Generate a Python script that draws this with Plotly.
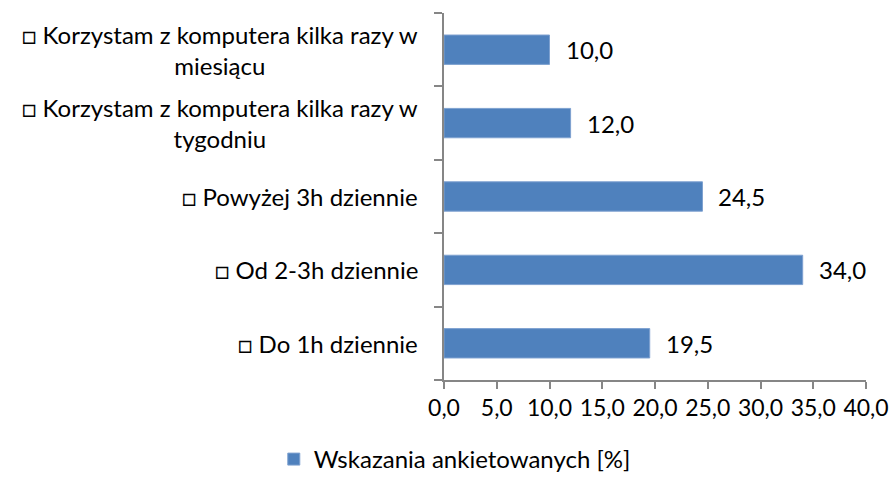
import plotly.graph_objects as go

categories = [
    "□ Do 1h dziennie",
    "□ Od 2-3h dziennie",
    "□ Powyżej 3h dziennie",
    "□ Korzystam z komputera kilka razy w<br>tygodniu",
    "□ Korzystam z komputera kilka razy w<br>miesiącu",
]
values = [19.5, 34.0, 24.5, 12.0, 10.0]
series_name = "Wskazania ankietowanych [%]"
x_ticks = [0, 5, 10, 15, 20, 25, 30, 35, 40]

FONT = "Lato"
FS = 24
AXIS_COLOR = "#868686"
BAR_COLOR = "#4F81BD"

fig = go.Figure()
fig.add_trace(go.Bar(
    y=categories,
    x=values,
    orientation="h",
    name=series_name,
    marker=dict(color=BAR_COLOR, line=dict(color="#7EA1D0", width=1)),
    showlegend=True,
))

annotations = []
for cat in categories:
    annotations.append(dict(
        x=0, xref="paper", y=cat, yref="y",
        text=cat, showarrow=False, xanchor="right", yanchor="middle",
        align="center", xshift=-24,
        font=dict(family=FONT, size=FS, color="#000000"),
    ))
for cat, v in zip(categories, values):
    annotations.append(dict(
        x=v, xref="x", y=cat, yref="y",
        text=f"{v:.1f}".replace(".", ","), showarrow=False,
        xanchor="left", yanchor="middle", xshift=14,
        font=dict(family=FONT, size=FS, color="#000000"),
    ))

fig.update_layout(
    width=890, height=482,
    margin=dict(l=444, r=24, t=13, b=102, autoexpand=False),
    paper_bgcolor="white", plot_bgcolor="white",
    separators=", ",
    bargap=0.6,
    font=dict(family=FONT, size=FS, color="#000000"),
    annotations=annotations,
    legend=dict(
        orientation="h", x=0.511, xanchor="center", y=0.0, yanchor="bottom",
        xref="container", yref="container",
        font=dict(family=FONT, size=FS, color="#000000"),
    ),
)

fig.update_xaxes(
    range=[0, 40], tickvals=x_ticks, tickformat=".1f",
    showgrid=False, zeroline=False, automargin=False,
    showline=True, linecolor=AXIS_COLOR, linewidth=1.5,
    ticks="outside", ticklen=7, tickcolor=AXIS_COLOR, tickwidth=1.5,
    tickfont=dict(family=FONT, size=FS - 1, color="#000000"),
    fixedrange=True,
)
fig.update_yaxes(
    type="category", categoryorder="array", categoryarray=categories,
    showticklabels=False, tickson="boundaries", automargin=False,
    showgrid=False, zeroline=False,
    showline=True, linecolor=AXIS_COLOR, linewidth=1.5,
    ticks="outside", ticklen=8, tickcolor=AXIS_COLOR, tickwidth=1.5,
    fixedrange=True,
)

fig.write_html(
    "out.html",
    config={"displayModeBar": False},
    post_script="document.body.style.margin='0';document.body.style.overflow='hidden';",
)
